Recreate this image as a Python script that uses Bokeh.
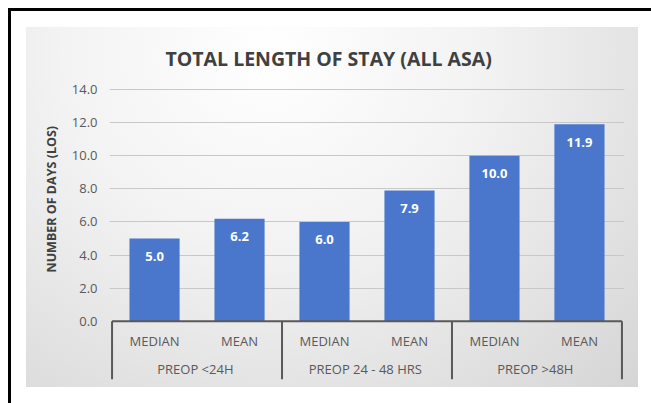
import numpy as np
from bokeh.plotting import figure
from bokeh.models import Range1d, FixedTicker, PrintfTickFormatter, ColumnDataSource, Title
from bokeh.core.properties import value
from bokeh.embed import file_html
from bokeh.resources import INLINE

# ---- data ----
groups = ["PREOP  <24H", "PREOP  24 - 48 HRS", "PREOP  >48H"]
stats = ["MEDIAN", "MEAN"]
values = [5.0, 6.2, 6.0, 7.9, 10.0, 11.9]
y_ticks = [0, 2, 4, 6, 8, 10, 12, 14]
title_text = "TOTAL LENGTH OF STAY (ALL ASA)"
y_label = "NUMBER OF DAYS (LOS)"

FONT = "Open Sans"
BAR = "#4a77cc"
TXT = "#595959"

n = len(values)
per = len(stats)
xs = np.arange(n) + 0.5
sub_labels = [s for _ in groups for s in stats]
group_x = np.arange(len(groups)) * per + per / 2
sep_x = np.arange(0, n + 1, per)

bg = ("linear-gradient(#000,#000) 8px 8px/3px 395px no-repeat, "
      "linear-gradient(#000,#000) 8px 8px/643px 3px no-repeat, "
      "radial-gradient(ellipse farthest-corner at 40% 8%, #ffffff 0%, #f3f3f3 40%, #d5d5d5 100%) 26px 27px/612px 360px no-repeat, "
      "#ffffff")

p = figure(width=651, height=403, output_backend="svg", toolbar_location=None,
           x_range=Range1d(-0.03, n + 0.03), y_range=Range1d(-3.636, 14.545),
           x_axis_location=None, min_border_left=109, min_border_right=27,
           min_border_top=80, min_border_bottom=22,
           styles={"background": bg})
p.border_fill_alpha = 0
p.background_fill_alpha = 0
p.outline_line_color = None

# title
p.title.text = title_text
p.title.align = "left"
p.title.offset = 56
p.title.standoff = 18
p.title.text_font = FONT
p.title.text_font_style = "bold"
p.title.text_font_size = "19.5px"
p.title.text_color = "#404040"

# y axis label as a side title
p.add_layout(Title(text=y_label, align="left", offset=109, standoff=17, text_font=FONT,
                   text_font_style="bold", text_font_size="12.5px", text_color="#404040"), "left")

# grid
p.xgrid.visible = False
p.ygrid.ticker = FixedTicker(ticks=y_ticks[1:])
p.ygrid.grid_line_color = "#c8c8c8"
p.ygrid.grid_line_width = 1

# y axis
ax = p.yaxis[0]
ax.ticker = FixedTicker(ticks=y_ticks)
ax.formatter = PrintfTickFormatter(format="%.1f")
ax.axis_line_color = None
ax.major_tick_line_color = None
ax.minor_tick_line_color = None
ax.major_tick_out = 0
ax.major_tick_in = 0
ax.major_label_standoff = 12
ax.major_label_text_font = FONT
ax.major_label_text_font_size = "13px"
ax.major_label_text_color = TXT

# bars
src = ColumnDataSource(dict(x=xs, top=values, lab=[f"{v:.1f}" for v in values], sub=sub_labels))
p.vbar(x="x", top="top", bottom=0, width=0.59, source=src, fill_color=BAR, line_color=None)
p.text(x="x", y="top", text="lab", source=src, y_offset=18, text_align="center",
       text_baseline="middle", text_color="white", text_font=value(FONT),
       text_font_style="bold", text_font_size="13px")

# category axis drawn inside frame
p.segment(x0=[0], y0=[0], x1=[n], y1=[0], line_color="#595959", line_width=2)
p.segment(x0=sep_x, y0=np.zeros(len(sep_x)), x1=sep_x, y1=np.full(len(sep_x), -3.5),
          line_color="#595959", line_width=2)
p.text(x="x", y=0, text="sub", source=src, y_offset=20, text_align="center",
       text_baseline="middle", text_color=TXT, text_font=value(FONT), text_font_size="13px")
p.text(x=group_x, y=np.zeros(len(groups)), text=groups, y_offset=48, text_align="center",
       text_baseline="middle", text_color=TXT, text_font=value(FONT), text_font_size="13px")

open("out.html", "w").write(file_html(p, INLINE))
